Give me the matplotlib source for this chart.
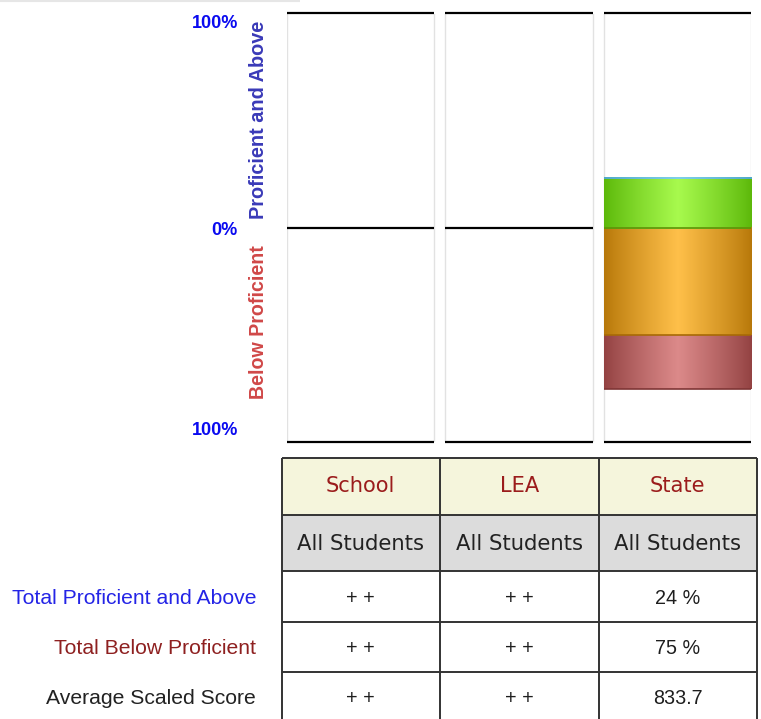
import numpy as np
import matplotlib
matplotlib.use("Agg")
import matplotlib.pyplot as plt
import matplotlib.transforms as mtransforms
from matplotlib.patches import Rectangle

# ---------------- data ----------------
groups = ["School", "LEA", "State"]
subgroups = ["All Students", "All Students", "All Students"]
# percent of students at each level (None = suppressed)
advanced = [None, None, 0.5]
proficient = [None, None, 23.0]
basic = [None, None, 50.0]
below_basic = [None, None, 25.0]

row_labels = ["Total Proficient and Above", "Total Below Proficient", "Average Scaled Score"]
total_proficient = ["+ +", "+ +", "24 %"]
total_below = ["+ +", "+ +", "75 %"]
avg_score = ["+ +", "+ +", "833.7"]

y_ticks = [100, 0, -100]
y_ticklabels = ["100%", "0%", "100%"]

# ---------------- figure ----------------
W, H = 761, 719
DPI = 100
fig = plt.figure(figsize=(W / DPI, H / DPI), dpi=DPI)
fig.patch.set_facecolor("white")

SANS = ["Liberation Sans", "DejaVu Sans"]
VERD = ["DejaVu Sans"]

# chart axes placed in pixel frame
top_px, bot_px = 13.5, 442.3
left_px, right_px = 287, 751
ax = fig.add_axes([left_px / W, 1 - bot_px / H, (right_px - left_px) / W, (bot_px - top_px) / H])
ax.set_facecolor("none")
pw = 147.5 / 158.5  # panel width in category units
ax.set_xlim(-pw / 2, 2 + pw / 2)
ax.set_ylim(-100, 100)
ax.axis("off")

x = np.arange(len(groups))


def gradient(edge, center, n=200):
    edge = np.array(matplotlib.colors.to_rgb(edge))
    center = np.array(matplotlib.colors.to_rgb(center))
    t = np.linspace(0, 1, n)
    t = 1 - np.abs(2 * t - 1)
    t = t ** 0.9
    return (edge[None, :] + (center - edge)[None, :] * t[:, None])[None, :, :]


styles = {
    "advanced": ("#4FA8C8", "#7FD0E8", "#3C8FB0"),
    "proficient": ("#5CB80A", "#A8FA4E", "#4E9E08"),
    "basic": ("#B7780A", "#FFC04A", "#A86A06"),
    "below": ("#934242", "#DC8A8A", "#7F3535"),
}

# panel frames
for i in x:
    l, r = i - pw / 2, i + pw / 2
    ax.vlines([l, r], -100, 100, colors="#E2E2E2", lw=1.0, zorder=1)
    ax.hlines(y_ticks, l, r, colors="black", lw=1.6, zorder=2, clip_on=False)

# stacked bars
for i in x:
    if proficient[i] is None:
        continue
    l, r = i - pw / 2, i + pw / 2
    segs = [
        ("proficient", 0, proficient[i]),
        ("advanced", proficient[i], proficient[i] + advanced[i]),
        ("basic", -basic[i], 0),
        ("below", -basic[i] - below_basic[i], -basic[i]),
    ]
    for key, y0, y1 in segs:
        e, c, d = styles[key]
        ax.imshow(gradient(e, c), extent=(l, r, y0, y1), aspect="auto",
                  interpolation="bilinear", zorder=3)
        if key != "advanced":
            ax.hlines([y0], l, r, colors=d, lw=1.2, zorder=4)
ax.set_xlim(-pw / 2, 2 + pw / 2)
ax.set_ylim(-100, 100)

# y labels
blend = mtransforms.blended_transform_factory(ax.transAxes, ax.transData)
label_offsets = [-10, -3, 12]
for v, lab, dy in zip(y_ticks, y_ticklabels, label_offsets):
    ax.annotate(lab, xy=(0, v), xycoords=blend, xytext=(-49, dy), textcoords="offset pixels",
                ha="right", va="center", fontsize=13, fontweight="bold", color="#0A0AF0",
                family=SANS, annotation_clip=False)

xl = -(287 - 258) / (right_px - left_px)
ax.text(xl, 50.5, "Proficient and Above", transform=blend,
        rotation=90, ha="center", va="center", fontsize=14.3, fontweight="bold",
        color="#3A3AB8", family=SANS)
ax.text(xl, -44, "Below Proficient", transform=blend,
        rotation=90, ha="center", va="center", fontsize=14.1, fontweight="bold",
        color="#D04848", family=SANS)

# ---------------- table (pixel coordinates) ----------------
tb = fig.add_axes([0, 0, 1, 1])
tb.set_xlim(0, W)
tb.set_ylim(H, 0)
tb.axis("off")
tb.set_zorder(-1)

# faint top rule
tb.hlines(0.8, 0, 300, colors="#E6E6E6", lw=1.5)

col_edges = [281.5, 440, 598.5, 757]
row_edges = [457.5, 515, 571, 621.5, 671.5, 722]
fills = ["#F5F5DC", "#DCDCDC", "white", "white", "white"]
for k in range(5):
    tb.add_patch(Rectangle((col_edges[0], row_edges[k]), col_edges[-1] - col_edges[0],
                           row_edges[k + 1] - row_edges[k], facecolor=fills[k], edgecolor="none"))
for yy in row_edges:
    tb.hlines(yy, col_edges[0], col_edges[-1], colors="#333333", lw=1.4)
for xx in col_edges:
    tb.vlines(xx, row_edges[0], row_edges[-1], colors="#333333", lw=1.4)

centers_x = [(col_edges[j] + col_edges[j + 1]) / 2 for j in range(3)]
row_cy = [486, 544, 598, 648.5, 699]

for j in range(3):
    tb.text(centers_x[j], row_cy[0], groups[j], ha="center", va="center",
            fontsize=15.1, color="#9B1C1C", family=VERD)
    tb.text(centers_x[j], row_cy[1], subgroups[j], ha="center", va="center",
            fontsize=15.2, color="#222222", family=VERD)
    for k, vals in enumerate([total_proficient, total_below, avg_score]):
        tb.text(centers_x[j], row_cy[k + 2], vals[j], ha="center", va="center",
                fontsize=14.2, color="#1E1E1E", family=SANS)

label_colors = ["#2424E6", "#8E2020", "#222222"]
for k, (lab, c) in enumerate(zip(row_labels, label_colors)):
    tb.text(256, row_cy[k + 2], lab, ha="right", va="center", fontsize=15.2,
            color=c, family=SANS)

fig.savefig("out.png", dpi=DPI, facecolor="white")
